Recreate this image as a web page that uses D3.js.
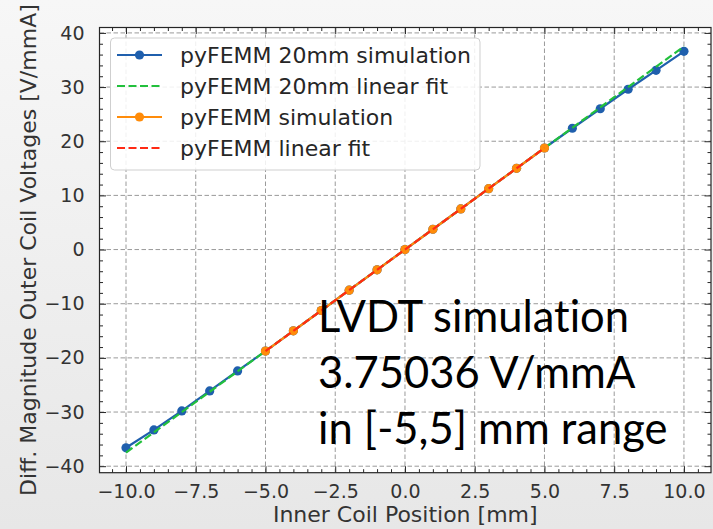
<!DOCTYPE html>
<html>
<head>
<meta charset="utf-8">
<script src="https://cdn.jsdelivr.net/npm/d3@7"></script>
<style>
    html, body { margin: 0; padding: 0; }
    body { width: 713px; height: 529px; overflow: hidden; }
    .note { font-variant-ligatures: none; }
</style>
</head>
<body>
<div id="chart"></div>
<script>
'use strict';

var positions20 = [-10, -9, -8, -7, -6, -5, -4, -3, -2, -1, 0, 1, 2, 3, 4, 5, 6, 7, 8, 9, 10];
var simulation20 = [-36.6, -33.3, -29.8, -26.1, -22.4, -18.75, -15.0, -11.25, -7.5, -3.75, 0,
    3.75, 7.5, 11.25, 15.0, 18.75, 22.4, 26.0, 29.6, 33.1, 36.6];
var fitPositions20 = [-10, 10];
var fitValues20 = [-37.5, 37.5];

var positions = [-5, -4, -3, -2, -1, 0, 1, 2, 3, 4, 5];
var simulation = [-18.75, -15.0, -11.25, -7.5, -3.75, 0, 3.75, 7.5, 11.25, 15.0, 18.75];
var fitPositions = [-5, 5];
var fitValues = [-18.75, 18.75];

var xTicks = [-10, -7.5, -5, -2.5, 0, 2.5, 5, 7.5, 10];
var yTicks = [-40, -30, -20, -10, 0, 10, 20, 30, 40];

var legendLabels = ['pyFEMM 20mm simulation', 'pyFEMM 20mm linear fit', 'pyFEMM simulation', 'pyFEMM linear fit'];
var noteLines = ['LVDT simulation', '3.75036 V/mmA', 'in [-5,5] mm range'];

var WIDTH = 713;
var HEIGHT = 529;
var PLOT = { left: 99.5, right: 711, top: 27.5, bottom: 472.7 };
var BLUE = '#1f5fad';
var GREEN = '#22c03c';
var ORANGE = '#ff8c0a';
var RED = '#ff2a14';
var INK = '#262626';
var MONO = 'DejaVu Sans, sans-serif';

var svg = d3.select('#chart').append('svg')
    .attr('width', WIDTH)
    .attr('height', HEIGHT);

var grad = svg.append('defs').append('linearGradient')
    .attr('id', 'bg')
    .attr('x1', 0).attr('y1', 0).attr('x2', 0).attr('y2', 1);
grad.append('stop').attr('offset', '0%').attr('stop-color', '#f7f7f7');
grad.append('stop').attr('offset', '100%').attr('stop-color', '#e7e7e7');

svg.append('rect')
    .attr('width', WIDTH)
    .attr('height', HEIGHT)
    .attr('fill', 'url(#bg)');

var x = d3.scaleLinear().domain([-10.95, 10.97]).range([PLOT.left, PLOT.right]);
var y = d3.scaleLinear().domain([-41.2, 41.0]).range([PLOT.bottom, PLOT.top]);

svg.append('rect')
    .attr('x', PLOT.left)
    .attr('y', PLOT.top)
    .attr('width', PLOT.right - PLOT.left)
    .attr('height', PLOT.bottom - PLOT.top)
    .attr('fill', '#fff');

function noLabel() {
    return '';
}

function minusSign(s) {
    return String(s).replace('-', '\u2212');
}

function renderGrid() {
    var g = svg.append('g').attr('class', 'grid')
        .attr('stroke', '#9a9a9a')
        .attr('stroke-width', 1)
        .attr('stroke-dasharray', '4.5,2.5');

    g.selectAll('line.gx').data(xTicks).enter().append('line')
        .attr('x1', function(d) { return x(d); })
        .attr('x2', function(d) { return x(d); })
        .attr('y1', PLOT.top)
        .attr('y2', PLOT.bottom);

    g.selectAll('line.gy').data(yTicks).enter().append('line')
        .attr('x1', PLOT.left)
        .attr('x2', PLOT.right)
        .attr('y1', function(d) { return y(d); })
        .attr('y2', function(d) { return y(d); });
}

// inward ticks on all four sides, majors from the axis and minors added by hand
function renderAxes() {
    var xMinor = d3.range(-10.5, 11, 0.5).filter(function(d) { return xTicks.indexOf(d) < 0; });
    var yMinor = d3.range(-40, 41, 2).filter(function(d) { return yTicks.indexOf(d) < 0; });

    var bottom = svg.append('g')
        .attr('transform', 'translate(0,' + PLOT.bottom + ')')
        .call(d3.axisBottom(x).tickValues(xTicks).tickSizeInner(-6.5).tickSizeOuter(0).tickPadding(12)
            .tickFormat(function(d) { return minusSign(d3.format('.1f')(d)); }));
    bottom.selectAll('text').attr('font-size', 19).attr('font-family', MONO).attr('fill', '#333');

    var left = svg.append('g')
        .attr('transform', 'translate(' + PLOT.left + ',0)')
        .call(d3.axisLeft(y).tickValues(yTicks).tickSizeInner(-6.5).tickSizeOuter(0).tickPadding(15)
            .tickFormat(minusSign));
    left.selectAll('text').attr('font-size', 19).attr('font-family', MONO).attr('fill', '#333');

    svg.append('g')
        .attr('transform', 'translate(0,' + PLOT.top + ')')
        .call(d3.axisTop(x).tickValues(xTicks).tickSizeInner(-6.5).tickSizeOuter(0).tickFormat(noLabel));
    svg.append('g')
        .attr('transform', 'translate(' + PLOT.right + ',0)')
        .call(d3.axisRight(y).tickValues(yTicks).tickSizeInner(-6.5).tickSizeOuter(0).tickFormat(noLabel));

    svg.append('g').attr('transform', 'translate(0,' + PLOT.bottom + ')')
        .call(d3.axisBottom(x).tickValues(xMinor).tickSizeInner(-3.5).tickSizeOuter(0).tickFormat(noLabel));
    svg.append('g').attr('transform', 'translate(0,' + PLOT.top + ')')
        .call(d3.axisTop(x).tickValues(xMinor).tickSizeInner(-3.5).tickSizeOuter(0).tickFormat(noLabel));
    svg.append('g').attr('transform', 'translate(' + PLOT.left + ',0)')
        .call(d3.axisLeft(y).tickValues(yMinor).tickSizeInner(-3.5).tickSizeOuter(0).tickFormat(noLabel));
    svg.append('g').attr('transform', 'translate(' + PLOT.right + ',0)')
        .call(d3.axisRight(y).tickValues(yMinor).tickSizeInner(-3.5).tickSizeOuter(0).tickFormat(noLabel));

    svg.selectAll('.domain').remove();
    svg.selectAll('.tick line').attr('stroke', INK);

    svg.append('rect')
        .attr('x', PLOT.left)
        .attr('y', PLOT.top)
        .attr('width', PLOT.right - PLOT.left)
        .attr('height', PLOT.bottom - PLOT.top)
        .attr('fill', 'none')
        .attr('stroke', INK)
        .attr('stroke-width', 1.2);

    svg.append('text')
        .attr('x', (PLOT.left + PLOT.right) / 2)
        .attr('y', 522)
        .attr('text-anchor', 'middle')
        .attr('font-family', MONO)
        .attr('font-size', 22)
        .attr('fill', '#333')
        .text('Inner Coil Position [mm]');

    svg.append('text')
        .attr('transform', 'translate(36,' + ((PLOT.top + PLOT.bottom) / 2) + ') rotate(-90)')
        .attr('text-anchor', 'middle')
        .attr('font-family', MONO)
        .attr('font-size', 22)
        .attr('fill', '#333')
        .text('Diff. Magnitude Outer Coil Voltages [V/mmA]');
}

function renderLine(xs, ys, color, dashed) {
    var line = d3.line()
        .x(function(d, i) { return x(xs[i]); })
        .y(function(d) { return y(d); });

    svg.append('path')
        .datum(ys)
        .attr('d', line)
        .attr('fill', 'none')
        .attr('stroke', color)
        .attr('stroke-width', 2.2)
        .attr('stroke-dasharray', dashed ? '8,3.5' : null);
}

function renderMarkers(xs, ys, color) {
    svg.append('g').selectAll('circle').data(ys).enter().append('circle')
        .attr('cx', function(d, i) { return x(xs[i]); })
        .attr('cy', function(d) { return y(d); })
        .attr('r', 4.6)
        .attr('fill', color);
}

function renderLegend() {
    var colors = [BLUE, GREEN, ORANGE, RED];
    var dashed = [false, true, false, true];
    var markers = [true, false, true, false];
    var g = svg.append('g').attr('class', 'legend');

    g.append('rect')
        .attr('x', 110.5)
        .attr('y', 38)
        .attr('width', 369.5)
        .attr('height', 132)
        .attr('rx', 4)
        .attr('fill', 'rgba(255,255,255,0.85)')
        .attr('stroke', '#cfcfcf');

    legendLabels.forEach(function(label, i) {
        var rowY = 55 + i * 31;
        g.append('line')
            .attr('x1', 117).attr('x2', 162)
            .attr('y1', rowY).attr('y2', rowY)
            .attr('stroke', colors[i])
            .attr('stroke-width', 2.2)
            .attr('stroke-dasharray', dashed[i] ? '8,3.5' : null);
        if (markers[i]) {
            g.append('circle')
                .attr('cx', 139.5).attr('cy', rowY).attr('r', 4.6)
                .attr('fill', colors[i]);
        }
        g.append('text')
            .attr('x', 180)
            .attr('y', rowY + 8)
            .attr('font-family', MONO)
            .attr('font-size', 22)
            .attr('fill', INK)
            .text(label);
    });
}

function renderNote() {
    svg.append('g').attr('class', 'note').selectAll('text').data(noteLines).enter().append('text')
        .attr('x', 318)
        .attr('y', function(d, i) { return 332 + i * 56; })
        .attr('font-family', 'Lato, sans-serif')
        .attr('font-size', 43.5)
        .attr('fill', '#000')
        .text(function(d) { return d; });
}

renderGrid();
renderLine(positions20, simulation20, BLUE, false);
renderMarkers(positions20, simulation20, BLUE);
renderLine(fitPositions20, fitValues20, GREEN, true);
renderLine(positions, simulation, ORANGE, false);
renderMarkers(positions, simulation, ORANGE);
renderLine(fitPositions, fitValues, RED, true);
renderAxes();
renderLegend();
renderNote();
</script>
</body>
</html>
